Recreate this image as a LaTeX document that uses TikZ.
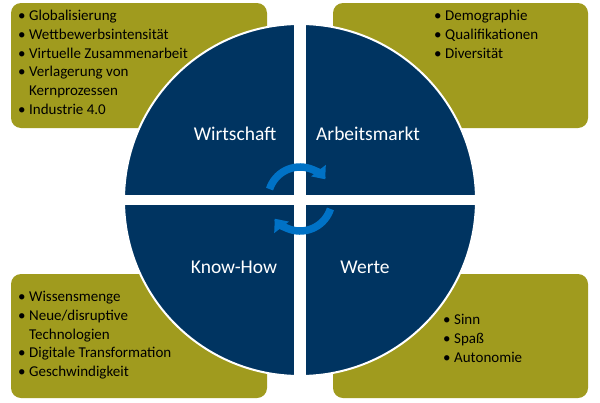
\documentclass[tikz,border=0pt]{standalone}
\usepackage{fontspec}
\setmainfont{Carlito}
\usetikzlibrary{arrows.meta}
\definecolor{boxolive}{RGB}{160,155,30}
\definecolor{navyq}{RGB}{0,52,97}
\definecolor{arrowblue}{RGB}{0,114,198}
\begin{document}
\begin{tikzpicture}[x=1pt,y=-1pt,
  box/.style={fill=boxolive, rounded corners=10pt},
  list/.style={font=\fontsize{15}{18.7}\selectfont, inner sep=0pt, anchor=north west, align=left},
  qlabel/.style={font=\fontsize{19.5}{22}\selectfont, text=white, inner sep=0pt},
  cyc/.style={draw=arrowblue, line width=7.5pt, -{Triangle[width=18pt,length=11pt]}}]
\useasboundingbox (0,0) rectangle (600,402);
% boxes
\fill[box] (11,3) rectangle (267,128);
\fill[box] (333,3) rectangle (588,128);
\fill[box] (11,274) rectangle (267,398);
\fill[box] (333,274) rectangle (588,398);
% lists
\node[list] (tl) at (18,7.5) {\begin{tabular}{@{}l@{\hspace{3.5pt}}l@{}}
\textbullet & Globalisierung\\
\textbullet & Wettbewerbsintensität\\
\textbullet & Virtuelle Zusammenarbeit\\
\textbullet & Verlagerung von\\
 & Kernprozessen\\
\textbullet & Industrie 4.0
\end{tabular}};
\node[list] (tr) at (434,7.5) {\begin{tabular}{@{}l@{\hspace{3.5pt}}l@{}}
\textbullet & Demographie\\
\textbullet & Qualifikationen\\
\textbullet & Diversität
\end{tabular}};
\node[list] (bl) at (18,288.5) {\begin{tabular}{@{}l@{\hspace{3.5pt}}l@{}}
\textbullet & Wissensmenge\\
\textbullet & Neue/disruptive\\
 & Technologien\\
\textbullet & Digitale Transformation\\
\textbullet & Geschwindigkeit
\end{tabular}};
\node[list] (br) at (443,311.5) {\begin{tabular}{@{}l@{\hspace{3.5pt}}l@{}}
\textbullet & Sinn\\
\textbullet & Spaß\\
\textbullet & Autonomie
\end{tabular}};
% circle
\fill[navyq, draw=white, line width=2pt] (300,200) circle (176pt);
\begin{scope}
\clip (300,200) circle (175pt);
\fill[white] (294,0) rectangle (306,402);
\fill[white] (0,195) rectangle (600,205);
\end{scope}
% labels
\node[qlabel] (w1) at (235,134) {Wirtschaft};
\node[qlabel] (w2) at (368,134) {Arbeitsmarkt};
\node[qlabel] (w3) at (234,267) {Know-How};
\node[qlabel] (w4) at (365,267) {Werte};
% cycle arrows
\coordinate (ac) at (300,199);
\draw[cyc] ([shift={(162:32pt)}]ac) arc[start angle=162, end angle=38, radius=32pt];
\draw[cyc] ([shift={(-18:32pt)}]ac) arc[start angle=-18, end angle=-142, radius=32pt];
\end{tikzpicture}
\end{document}
